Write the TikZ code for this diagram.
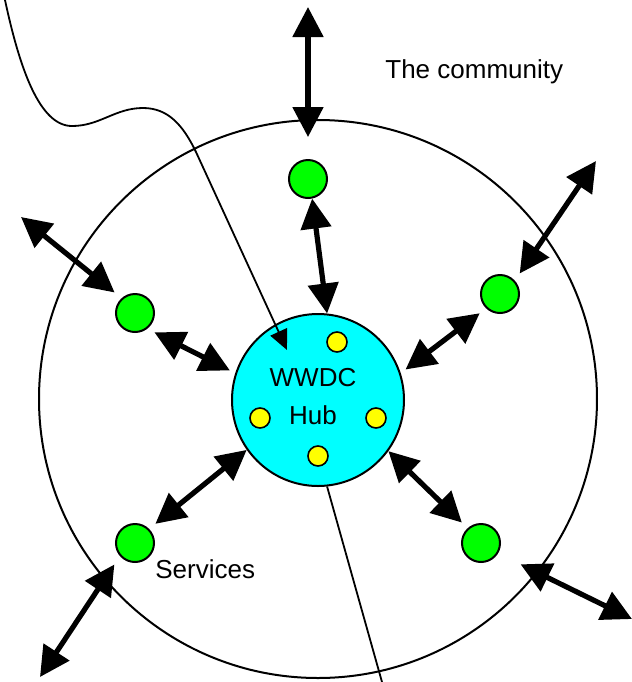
\documentclass[tikz,border=0pt]{standalone}
\usepackage{fontspec}
\setmainfont{Liberation Sans}
\usetikzlibrary{arrows.meta,calc}
\definecolor{svcgreen}{RGB}{0,255,0}
\definecolor{hubcyan}{RGB}{0,255,255}
\definecolor{dotyellow}{RGB}{255,255,0}

\begin{document}
\begin{tikzpicture}[x=0.5pt,y=-0.5pt,
	link/.style={line width=2.6pt,{Triangle[length=15pt,width=15pt]}-{Triangle[length=15pt,width=15pt]}},
	wire/.style={line width=0.9pt},
	service/.style={circle,draw,line width=1pt,fill=svcgreen,minimum size=19pt,inner sep=0pt},
	member/.style={circle,draw,line width=0.8pt,fill=dotyellow,minimum size=10pt,inner sep=0pt},
	txt/.style={font=\fontsize{13}{15}\selectfont,inner sep=0pt}]
							\useasboundingbox (0,0) rectangle (632,682);

							\node[circle,draw,line width=1pt,minimum size=279pt,inner sep=0pt] (community) at (318,399) {};
							\node[txt,anchor=base west] (commtxt) at (385,78) {The community};

							\node[circle,draw,line width=1pt,fill=hubcyan,minimum size=86pt,inner sep=0pt] (hub) at (318,400) {};
							\node[txt,anchor=base] (wwdc) at (313,386) {WWDC};
							\node[txt,anchor=base] (hubtxt) at (313,424) {Hub};

							\foreach \name/\x/\y in {m1/337/342, m2/260/418, m3/376/418, m4/318/456}
								\node[member] (\name) at (\x,\y) {};

							\coordinate (cTop) at (5,0);
							\coordinate (hubIn) at (287,350);
							\coordinate (cBot) at (382,682);
							\draw[wire,-{Triangle[length=10pt,width=9pt]}] (cTop) .. controls (20,70) and (40,126) .. (72,126)
								.. controls (100,126) and (115,108) .. (143,108)
								.. controls (168,108) and (183,125) .. (196,152) -- (hubIn);
							\draw[wire] (hub.-84) -- (cBot);

							\node[service] (gN) at (308,179) {};
							\node[service] (gW) at (135,313) {};
							\node[service] (gNE) at (500,294) {};
							\node[service] (gSW) at (135,543) {};
							\node[service] (gSE) at (481,543) {};
							\node[txt,anchor=base west] (services) at (155,578) {Services};

							\draw[link] (gN.-78) -- (hub.84);
							\draw[link,shorten <=4pt,shorten >=3pt] (gW.-52) -- (hub.162);
							\draw[link,shorten <=4pt,shorten >=3pt] (gNE.226) -- (hub.18);
							\draw[link,shorten <=4pt] (gSW.45) -- (hub.215);
							\draw[link,shorten >=4pt] (hub.-36) -- (gSE.132);

							\coordinate (oN) at (308,7);
							\coordinate (oNW) at (21,217);
							\coordinate (oNE) at (596,161);
							\coordinate (oSW) at (40,677);
							\coordinate (oSE) at (632,619);
							\draw[link,shorten <=11pt] (gN.north) -- (oN);
							\draw[link,shorten <=4.5pt] (gW.132) -- (oNW);
							\draw[link,shorten <=4.3pt] (gNE.42) -- (oNE);
							\draw[link,shorten <=5pt] (gSW.221) -- (oSW);
							\draw[link,shorten <=12.5pt] (gSE.-31) -- (oSE);
\end{tikzpicture}
\end{document}
